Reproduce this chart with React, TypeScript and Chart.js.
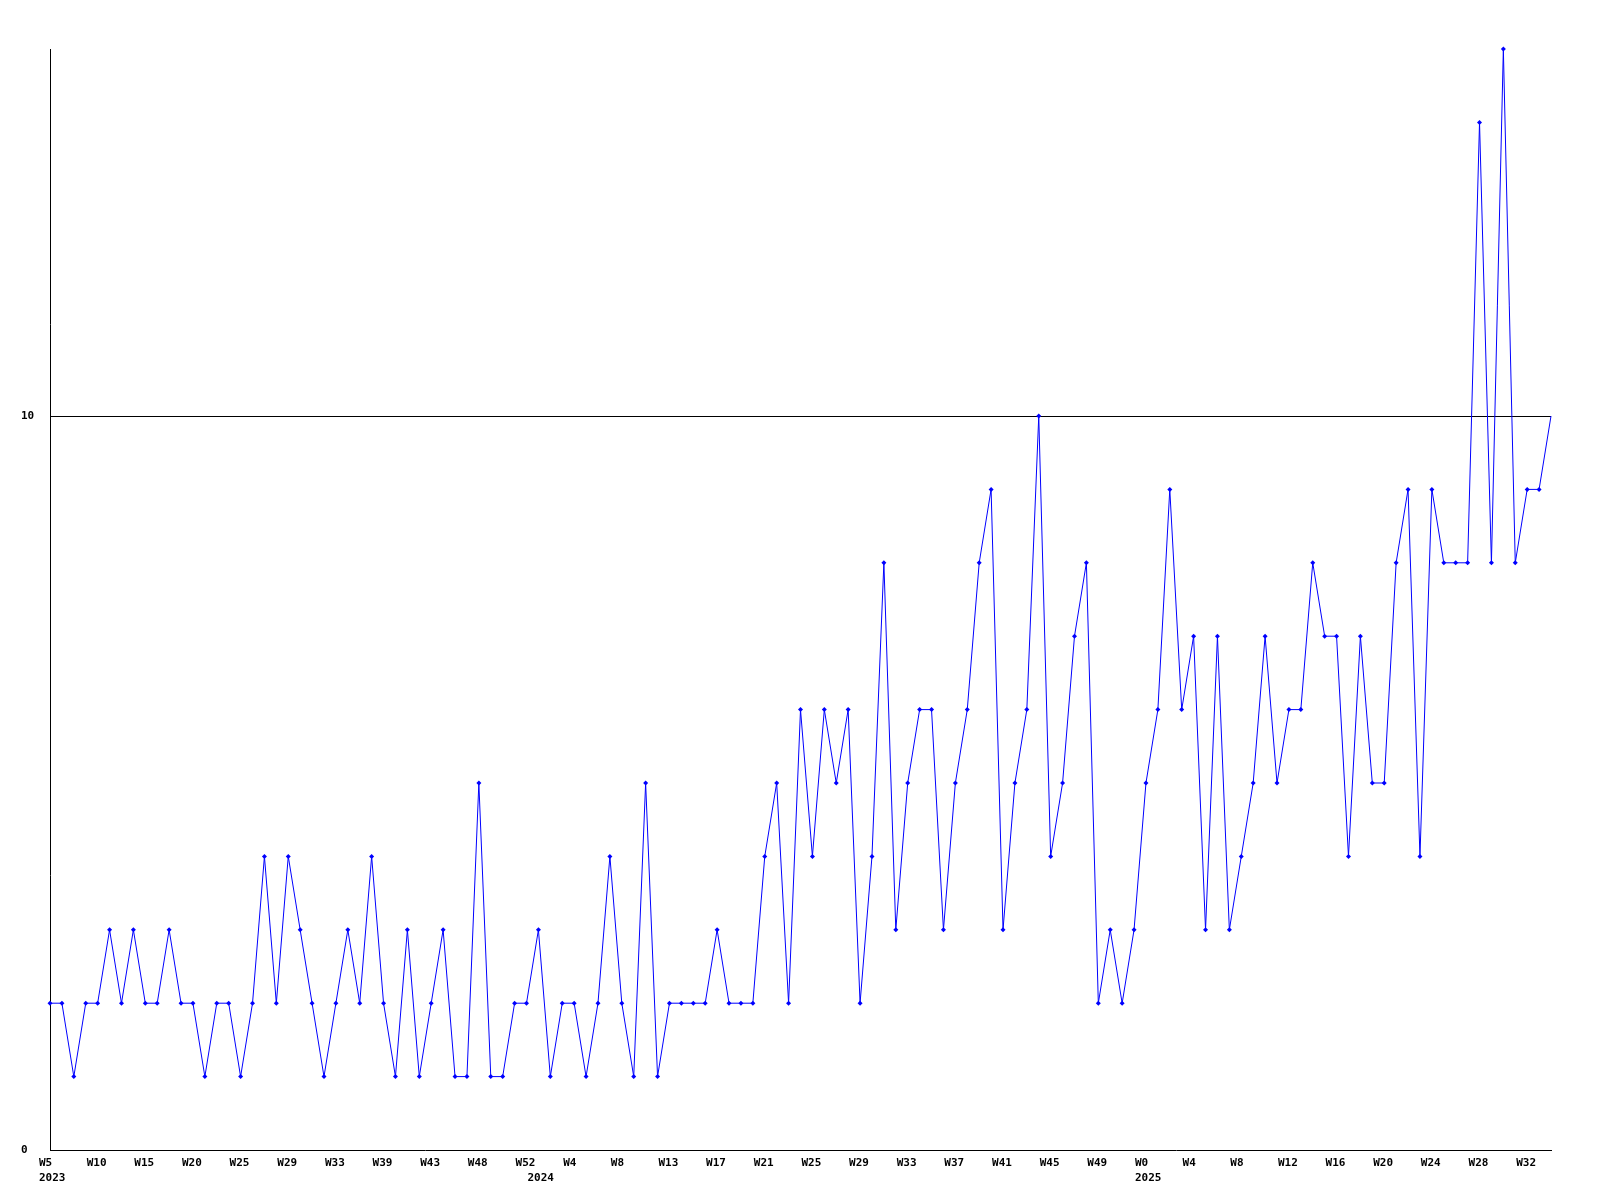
import React, { useEffect, useRef } from "react";
import { Chart, registerables } from "chart.js";

Chart.register(...registerables);

// Week numbers per year (as labelled on the source axis)
const weeks2023 = [5, 6, 7, 8, 10, 11, 12, 13, 15, 16, 17, 18, 20, 21, 22, 23, 25, 26, 27, 28, 29, 30, 31, 32, 33, 34, 35, 36, 39, 40, 41, 42, 43, 44, 45, 46, 48, 49, 50, 51, 52];
const weeks2024 = [1, 2, 3, 4, 5, 6, 7, 8, 9, 10, 11, 13, 14, 15, 16, 17, 18, 19, 20, 21, 22, 23, 24, 25, 26, 27, 28, 29, 30, 31, 32, 33, 34, 35, 36, 37, 38, 39, 40, 41, 42, 43, 44, 45, 46, 47, 48, 49, 50, 51, 52];
const weeks2025 = [0, 1, 2, 3, 4, 5, 6, 7, 8, 9, 10, 11, 12, 13, 14, 15, 16, 17, 18, 19, 20, 21, 22, 23, 24, 25, 26, 27, 28, 29, 30, 31, 32, 33, 34];

const categories: string[] = [
  ...weeks2023.map((w) => `2023-W${w}`),
  ...weeks2024.map((w) => `2024-W${w}`),
  ...weeks2025.map((w) => `2025-W${w}`),
];

const values = [
  2, 2, 1, 2, 2, 3, 2, 3, 2, 2,
  3, 2, 2, 1, 2, 2, 1, 2, 4, 2,
  4, 3, 2, 1, 2, 3, 2, 4, 2, 1,
  3, 1, 2, 3, 1, 1, 5, 1, 1, 2,
  2, 3, 1, 2, 2, 1, 2, 4, 2, 1,
  5, 1, 2, 2, 2, 2, 3, 2, 2, 2,
  4, 5, 2, 6, 4, 6, 5, 6, 2, 4,
  8, 3, 5, 6, 6, 3, 5, 6, 8, 9,
  3, 5, 6, 10, 4, 5, 7, 8, 2, 3,
  2, 3, 5, 6, 9, 6, 7, 3, 7, 3,
  4, 5, 7, 5, 6, 6, 8, 7, 7, 4,
  7, 5, 5, 8, 9, 4, 9, 8, 8, 8,
  14, 8, 15, 8, 9, 9, 10,
];

const yTickValues = [0, 10];
const yMax = 15;
const labelEvery = 4;

export default function App() {
  const ref = useRef<HTMLCanvasElement | null>(null);

  useEffect(() => {
    document.body.style.margin = "0";
    const canvas = ref.current;
    if (!canvas) return;
    const font = { family: "'DejaVu Sans Mono', monospace", size: 11, weight: "bold" as const, lineHeight: 15.5 / 11 };
    const last = values.length - 1;
    const chart = new Chart(canvas, {
      type: "line",
      data: {
        labels: categories,
        datasets: [
          {
            data: values,
            borderColor: "#0000ff",
            backgroundColor: "#0000ff",
            borderWidth: 1,
            tension: 0,
            pointStyle: "rectRot",
            pointRadius: (ctx: any) => (ctx.dataIndex === last ? 0 : 2.5),
            pointBorderWidth: 0,
            pointBackgroundColor: "#0000ff",
            fill: false,
            clip: false as any,
          },
        ],
      },
      options: {
        responsive: false,
        animation: false,
        devicePixelRatio: 1,
        layout: { padding: { left: 21, top: 49, right: 49, bottom: 0 } },
        plugins: { legend: { display: false }, tooltip: { enabled: false } },
        scales: {
          x: {
            type: "category",
            grid: { display: false, drawTicks: false },
            border: { display: true, color: "#000000", width: 1 },
            ticks: {
              autoSkip: false,
              maxRotation: 0,
              minRotation: 0,
              align: "start",
              labelOffset: -11,
              padding: 5,
              color: "#000000",
              font,
              callback: (_v: any, index: number) => {
                const [yr, wk] = categories[index].split("-");
                const prevYr = index > 0 ? categories[index - 1].split("-")[0] : "";
                const line1 = index % labelEvery === 0 ? wk : "";
                if (yr !== prevYr) return [line1, yr];
                return line1;
              },
            },
            afterFit: (scale: any) => {
              scale.height = 50;
            },
          },
          y: {
            type: "linear",
            min: 0,
            max: yMax,
            grid: {
              display: true,
              drawTicks: false,
              color: (ctx: any) => (ctx.tick && ctx.tick.value === 10 ? "#000000" : "rgba(0,0,0,0)"),
              lineWidth: 1,
            },
            border: { display: true, color: "#000000", width: 1 },
            afterBuildTicks: (scale: any) => {
              scale.ticks = yTickValues.map((v) => ({ value: v }));
            },
            ticks: {
              crossAlign: "far",
              color: "#000000",
              font,
              padding: 4,
            },
            afterFit: (scale: any) => {
              scale.width = 29;
            },
          },
        },
      },
    });
    return () => chart.destroy();
  }, []);

  return (
    <div style={{ position: "absolute", left: 0, top: 0, width: 1600, height: 1200, background: "#ffffff" }}>
      <canvas ref={ref} width={1600} height={1200} />
    </div>
  );
}
